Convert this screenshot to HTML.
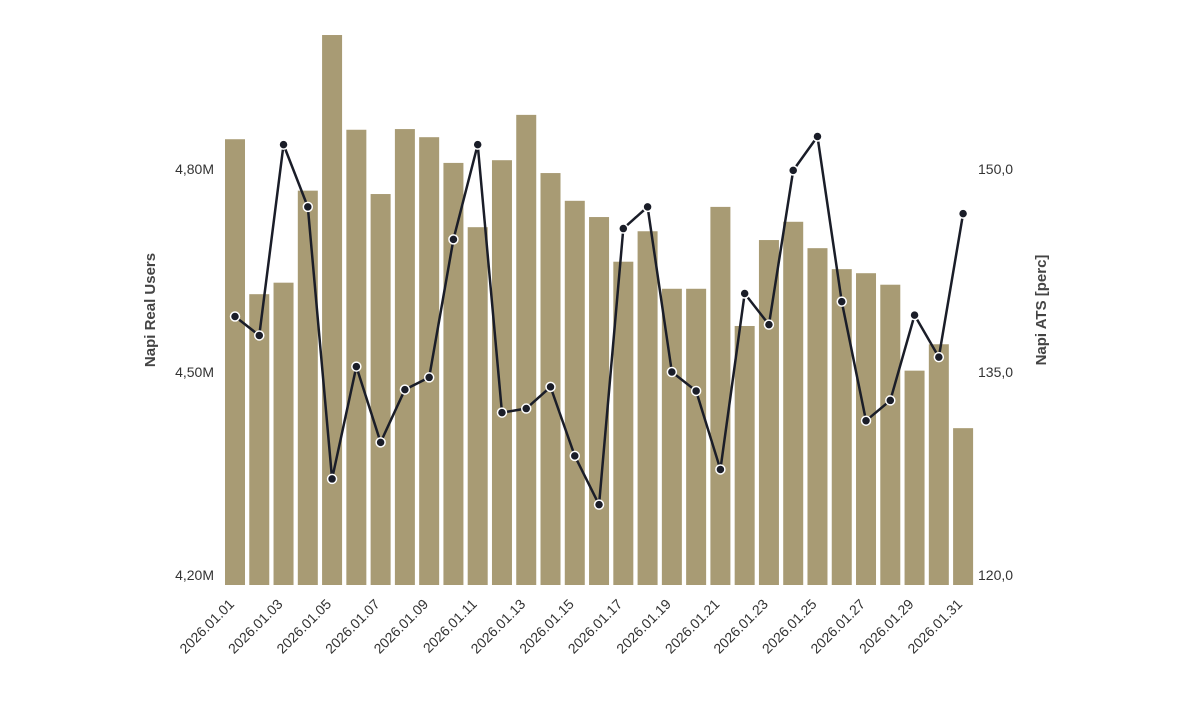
<!DOCTYPE html>
<html><head><meta charset="utf-8"><style>
body{margin:0;background:#fff;}
svg{display:block;font-family:"Liberation Sans",sans-serif;}
</style></head><body>
<svg id="chart" width="1200" height="720" viewBox="0 0 1200 720">
<g id="bars"></g>
<g id="line"></g>
<g id="axes"></g>
<text transform="translate(155,310) rotate(-90)" text-anchor="middle" font-size="15" font-weight="bold" fill="#444">Napi Real Users</text>
<text transform="translate(1046,310) rotate(-90)" text-anchor="middle" font-size="15" font-weight="bold" fill="#444">Napi ATS [perc]</text>
</svg>
<script>
const categories = Array.from({length:31},(_,i)=>'2026.01.'+String(i+1).padStart(2,'0'));
const users = [4.844,4.615,4.632,4.768,4.998,4.858,4.763,4.859,4.847,4.809,4.714,4.813,4.880,4.794,4.753,4.729,4.663,4.708,4.623,4.623,4.744,4.568,4.695,4.722,4.683,4.652,4.646,4.629,4.502,4.541,4.417];
const ats = [139.1,137.7,151.8,147.2,127.1,135.4,129.8,133.7,134.6,144.8,151.8,132.0,132.3,133.9,128.8,125.2,145.6,147.2,135.0,133.6,127.8,140.8,138.5,149.9,152.4,140.2,131.4,132.9,139.2,136.1,146.7];
const leftTicks = [4.2,4.5,4.8];
const leftTickLabels = ['4,20M','4,50M','4,80M'];
const rightTicks = [120,135,150];
const rightTickLabels = ['120,0','135,0','150,0'];

const NS='http://www.w3.org/2000/svg';
function mk(tag,attrs,parent){const e=document.createElementNS(NS,tag);for(const k in attrs)e.setAttribute(k,attrs[k]);parent.appendChild(e);return e;}
const x0=235, step=24.27, bw=20;
const xs=i=>x0+i*step;
const yL=v=>575-(v-4.2)*203/0.3;
const yR=v=>575-(v-120)*203/15;
const base=585;
const gb=document.getElementById('bars'), gl=document.getElementById('line'), ga=document.getElementById('axes');
users.forEach((v,i)=>{
  const r=mk('rect',{x:xs(i)-bw/2,y:yL(v),width:bw,height:base-yL(v),fill:'#a89b74'},gb);
  
  
});
const p=mk('path',{d:ats.map((v,i)=>(i?'L':'M')+xs(i)+','+yR(v)).join(''),fill:'none',stroke:'#1a1d28','stroke-width':2.5},gl);


ats.forEach((v,i)=>{
  const c=mk('circle',{cx:xs(i),cy:yR(v),r:4.5,fill:'#1a1d28',stroke:'#fff','stroke-width':1.5},gl);
  
  
});
leftTicks.forEach((v,i)=>{
  const t=mk('text',{x:214,y:yL(v)+5,'text-anchor':'end','font-size':14,fill:'#333'},ga);
  t.textContent=leftTickLabels[i];
  
  
});
rightTicks.forEach((v,i)=>{
  const t=mk('text',{x:978,y:yR(v)+5,'font-size':14,fill:'#333'},ga);
  t.textContent=rightTickLabels[i];
  
  
});
categories.forEach((c,i)=>{
  if(i%2) return;
  const t=mk('text',{transform:'translate('+(xs(i))+',605) rotate(-45)','text-anchor':'end','font-size':14,fill:'#333'},ga);
  t.textContent=c;
  
  
});
</script>
</body></html>
